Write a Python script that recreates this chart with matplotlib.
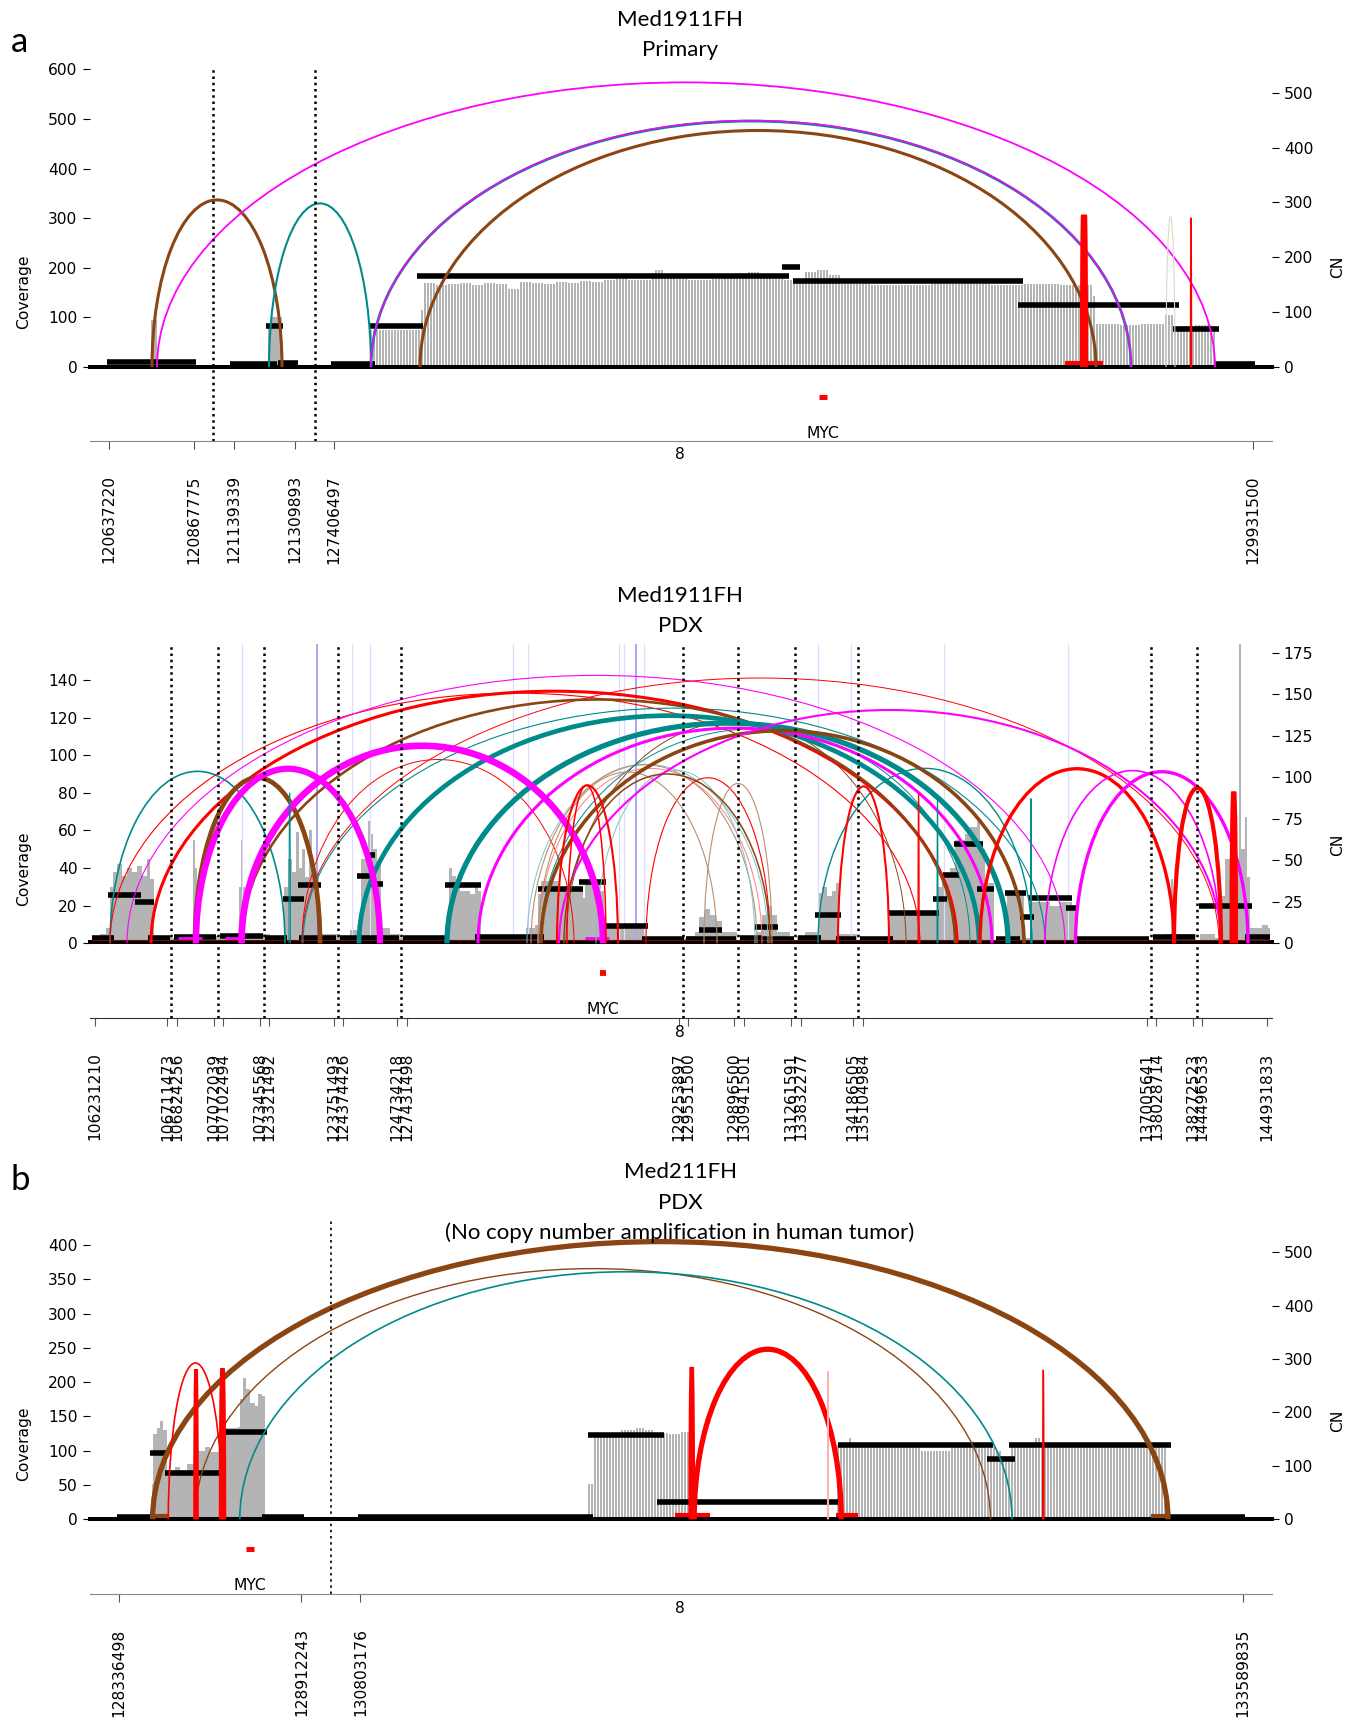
import numpy as np
import matplotlib
matplotlib.use('Agg')
import matplotlib.pyplot as plt
from matplotlib.patches import Arc

W, H = 1354, 1720
BROWN = '#8B4513'
TEAL = '#008B8B'
MAG = '#FF00FF'
RED = '#FF0000'
FAINT = '#e3d6ca'

# ---- panel a, Primary: x is position along the stitched track
a_ticks = [109.3, 193.8, 233.7, 295.3, 334.3, 1252.7]
a_labels = ['120637220', '120867775', '121139339', '121309893', '127406497', '129931500']
a_dotted = [213.3, 314.8]
a_seg_x0 = [107, 230, 266, 277.5, 331, 370, 417, 782, 793, 1018, 1173, 1215]
a_seg_x1 = [196, 277, 283, 298, 375, 423, 789, 800, 1023, 1179, 1219, 1255]
a_seg_cn = [9, 5, 74, 8, 5, 74, 166, 182, 157, 113, 70, 5]
a_cov_x = [151, 157, 268, 271, 282]
a_cov_y = [95, 0, 85, 100, 0]
a_stick_x = [371, 420, 423, 435, 447, 459, 471, 483, 495, 507, 519,
             531, 543, 555, 567, 579, 591, 603, 615, 627, 639, 651, 655, 663, 675, 687, 699,
             711, 723, 735, 747, 759, 771, 783, 792, 804, 816, 828, 841, 870, 900, 930, 960,
             990, 1024, 1060, 1093, 1095, 1097, 1120, 1140, 1166, 1175, 1195, 1213, 1217]
a_stick_y = [74, 115, 170, 165, 168, 170, 166, 170, 168, 158, 172,
             170, 168, 172, 170, 174, 172, 175, 178, 176, 175, 190, 196, 180, 178, 176, 175,
             178, 182, 190, 192, 186, 178, 176, 170, 192, 196, 186, 168, 166, 165, 167, 168,
             166, 168, 166, 143, 100, 87, 84, 86, 106, 83, 85, 82, 0]
a_arc_x0 = [152, 157, 269, 371, 371, 420, 1083, 1190.5, 1166]
a_arc_x1 = [282, 1215, 371, 1131, 1131, 1096, 1085, 1191.5, 1175]
a_arc_peak = [337, 574, 330, 496, 497, 477, 307, 301, 303]
a_arc_color = [BROWN, MAG, TEAL, TEAL, MAG, BROWN, RED, RED, FAINT]
a_arc_width = [2.2, 1.3, 1.5, 2.0, 1.1, 2.2, 4.4, 1.0, 0.8]
a_base_x0 = [1065]
a_base_x1 = [1103]
a_base_y = [8]
a_base_color = [RED]

# ---- panel a, PDX
p_ticks = [95, 167.4, 176.5, 213.8, 223.3, 259.8, 269.3, 333.5, 343, 396.8, 406.8, 678.7, 687.7,
           734.2, 743.6, 791, 801, 853, 862.7, 1147, 1156.4, 1192.5, 1202.3, 1267.3]
p_labels = ['106231210', '106711473', '106824256', '107072039', '107102494', '107345568',
            '123321492', '123751493', '124374426', '124734218', '127431498', '129253897',
            '129551500', '129896500', '130941501', '131261591', '133832277', '134186505',
            '135104984', '137005641', '138028714', '138272523', '144496533', '144931833']
p_dotted = [171.3, 217.7, 264.1, 338.2, 401.1, 682.6, 737.6, 795.2, 858, 1150.8, 1196.8]
p_seg_x0 = [92, 107.5, 135, 148, 173.5, 220.3, 265.4, 282.7, 298, 299, 340.4, 356.5, 370.8, 369.5,
            403.3, 444.5, 474.9, 537.7, 579, 606.2, 641.8, 686, 699.3, 714.4, 740.2, 754.4, 761.7,
            798.2, 815.4, 835.6, 859.7, 887.7, 932.8, 943, 954.3, 976.6, 996, 1005.4, 1019.6,
            1028.2, 1066, 1075.5, 1153, 1198.5, 1245.3]
p_seg_x1 = [114, 141, 154.4, 170, 215.5, 262.8, 287, 304.4, 321, 336, 399, 370.8, 382.5, 375,
            446.7, 481.4, 544.2, 583.3, 606.2, 648.3, 684, 714.4, 721.7, 736, 761.7, 778, 794,
            820.6, 841.2, 856.3, 892.8, 938.8, 947.4, 959.4, 983, 993.8, 1019.6, 1025.7, 1033.8,
            1072, 1076, 1148.6, 1195, 1251.8, 1270]
p_seg_cn = [3, 29, 25, 3, 4, 4.7, 3, 27, 35, 3, 3, 40.6, 35.7, 53,
            3, 35, 3.8, 33, 36.8, 10.5, 2.7, 2.7, 8, 2.7, 3.3, 9.6, 2.7,
            3, 17, 2.7, 2.7, 18, 27, 41, 60, 33, 2.7, 30.5, 16,
            27.6, 21, 2.7, 3.8, 22.7, 3.8]
p_cov_x = [92, 100, 106, 110, 113, 117, 122, 127, 132, 137, 142, 147, 150, 154, 172, 193, 195, 197,
           218, 239, 241, 243, 245, 270, 284, 288, 292, 296, 299, 302, 305, 309, 312, 315, 319, 340,
           350, 359, 361, 365, 368, 370, 373, 377, 381, 390, 400, 404, 449, 452, 456, 460, 470, 475,
           478, 481, 526, 535, 538, 541, 560, 575, 583, 585, 600, 604, 625, 645, 687, 695, 699, 705,
           710, 716, 722, 737, 743, 757, 762, 767, 772, 777, 790, 797, 805, 817, 818, 822, 827, 832,
           836, 839, 857, 890, 938, 942, 950, 955, 965, 970, 977, 980, 985, 994, 1007, 1024, 1032,
           1050, 1060, 1072, 1076, 1153, 1165, 1171, 1173, 1196, 1200, 1215, 1220, 1225, 1230, 1236,
           1239, 1241, 1245, 1247, 1250, 1262, 1268, 1270]
p_cov_y = [3, 5, 8, 30, 38, 42, 36, 40, 38, 41, 36, 45, 34, 4, 3, 55, 40, 4,
           3, 30, 55, 30, 5, 4, 30, 45, 38, 59, 40, 50, 35, 60, 42, 38, 5, 4,
           7, 8, 45, 50, 65, 58, 50, 42, 8, 5, 3, 0, 40, 36, 32, 28, 26, 30,
           28, 0, 8, 10, 26, 33, 28, 30, 24, 33, 28, 10, 9, 3, 4, 6, 14, 18,
           15, 12, 6, 1, 4, 6, 15, 20, 15, 6, 1, 4, 6, 3, 27, 30, 25, 28,
           32, 5, 1, 16, 30, 36, 40, 55, 58, 62, 65, 50, 32, 2, 28, 3, 22,
           20, 22, 18, 0, 3, 5, 34, 5, 1, 5, 3, 25, 45, 52, 45,
           159, 50, 67, 35, 8, 10, 8, 0]
p_blue_faint = [241.5, 352, 369.5, 512.6, 528, 618.8, 623.6, 644, 817.6, 851, 944.4, 1068]
p_blue_strong = [316.6, 636]
p_arc_x0 = [110, 110, 127, 302, 302, 303, 527, 531, 538, 566, 596, 540, 646, 704, 538, 818,
            151, 195, 241.5, 359, 447, 478, 541, 559, 564, 196, 241.5,
            567, 557, 838, 980, 1045, 1075.5, 1174, 1232, 918, 937, 1030.5, 289]
p_arc_x1 = [285, 920, 1065, 1219, 574, 1045, 768, 757, 762, 906, 755, 970, 770, 772, 717, 1032,
            957, 320, 955, 979, 1008, 992, 1024, 1221, 770, 380, 603,
            606, 618, 889, 1174, 1220, 1248, 1221, 1235.5, 919.2, 938, 1031.5, 290.4]
p_arc_peak = [91.4, 133, 142.4, 141, 97.7, 125, 95, 95, 93, 118, 92, 114, 88, 85, 91, 93,
              134, 88, 129.6, 121, 117, 114.4, 113, 124, 90, 92.8, 105,
              84, 84, 83.4, 92.8, 91.8, 91.2, 82.6, 80.6, 80, 77, 77, 80]
p_arc_color = [TEAL, RED, MAG, RED, RED, TEAL, '#7fc5c5', '#b98f70', '#ff7f7f', BROWN, '#7fc5c5', TEAL,
               RED, '#b98f70', '#b98f70', TEAL,
               RED, BROWN, BROWN, TEAL, TEAL, MAG, BROWN, MAG, BROWN, MAG, MAG,
               RED, RED, RED, RED, MAG, MAG, RED, RED, RED, TEAL, TEAL, TEAL]
p_arc_width = [1.2, 0.8, 0.8, 0.7, 0.7, 0.8, 0.7, 0.8, 0.7, 0.7, 0.7, 0.7, 0.8, 0.8, 0.8, 1.0,
               2.2, 3.4, 1.9, 3.4, 3.8, 2.2, 2.6, 1.5, 1.1, 4.5, 4.8,
               1.1, 1.5, 1.5, 2.4, 1.2, 2.4, 3.0, 3.6, 0.8, 0.7, 0.7, 0.7]
p_base_x0 = [178, 225, 585, 92]
p_base_x1 = [202, 243, 609, 1270]
p_base_y = [3, 3, 3, 2]
p_base_color = [MAG, MAG, MAG, '#8b0000']

# ---- panel b, PDX
c_ticks = [119.3, 301.4, 360.4, 1243]
c_labels = ['128336498', '128912243', '130803176', '133589835']
c_dotted = [331.3]
c_seg_x0 = [117, 149.6, 164.8, 224.6, 262.4, 357.8, 587.6, 657.4, 837.8, 987, 1008.9, 1170]
c_seg_x1 = [152.6, 167, 225.5, 266.7, 303.6, 593.2, 663.5, 837.8, 993, 1015.3, 1171, 1245]
c_seg_cn = [4.7, 123.7, 86, 163, 5, 4.7, 157, 32.8, 139.7, 113, 139, 4.7]
c_cov_x = [117, 152, 153, 157, 160, 163, 167, 175, 180, 187, 194, 205, 210, 218, 220, 238, 240,
           243, 246, 250, 255, 258, 262, 265, 300, 303]
c_cov_y = [3, 52, 125, 133, 144, 130, 72, 76, 72, 80, 100, 105, 98, 100, 133, 135, 175,
           206, 190, 170, 165, 183, 180, 3, 6, 0]
c_stick_x = [589, 593, 610, 622, 635, 645, 655, 668, 680, 689, 838, 850, 853, 900, 920, 950,
             985, 995, 1003, 1010, 1020, 1035, 1040, 1055, 1120, 1168]
c_stick_y = [52, 122, 125, 130, 133, 130, 126, 124, 128, 0, 108, 118, 107, 105, 100, 107,
             105, 100, 92, 110, 105, 118, 105, 110, 105, 0]
c_arc_x0 = [152.6, 195, 239.8, 168.3, 195, 221, 694.2, 690.5, 827.5, 1042.7]
c_arc_x1 = [1168, 990.4, 1012, 222.5, 197, 224, 841.2, 693, 828.5, 1043.9]
c_arc_peak = [405, 365.6, 361, 228, 219, 220, 248, 222, 216, 218]
c_arc_color = [BROWN, BROWN, TEAL, RED, RED, RED, RED, RED, '#ffb0b0', RED]
c_arc_width = [3.8, 1.0, 1.2, 1.2, 2.6, 3.2, 3.8, 3.0, 0.8, 1.0]
c_base_x0 = [675, 836, 1151, 152]
c_base_x1 = [710, 858, 1170, 168]
c_base_y = [6, 6, 5, 5]
c_base_color = [RED, RED, BROWN, BROWN]


def panel(top, bottom, cov_lim, cn_lim, cov_ticks, cn_ticks, ticks, labels, cov_pos, cn_pos,
          spine='#888888'):
    fig_h = (bottom - top) / H
    ax = fig.add_axes([90 / W, 1 - bottom / H, 1182 / W, fig_h])
    ax.set_xlim(90, 1272)
    ax.set_ylim(*cov_lim)
    ax.set_yticks(cov_ticks)
    ax.set_xticks(ticks, labels, rotation=90)
    ax.tick_params(axis='x', length=5.5, width=0.8, color='#555555', pad=19, labelsize=11.2)
    ax.tick_params(axis='y', length=5, width=0.8, pad=4, labelsize=11.2)
    for s in ['top', 'left', 'right']:
        ax.spines[s].set_visible(False)
    ax.spines['bottom'].set_color(spine)
    ax.set_ylabel('Coverage', fontsize=11.2)
    ax.yaxis.set_label_coords(31 / W, 1 - cov_pos / H, transform=fig.transFigure)

    cn = ax.twinx()
    cn.set_ylim(*cn_lim)
    cn.set_yticks(cn_ticks)
    cn.tick_params(axis='y', length=5, width=0.8, pad=3.5, labelsize=11.2)
    for s in cn.spines.values():
        s.set_visible(False)
    cn.set_ylabel('CN', fontsize=11.2)
    cn.yaxis.set_label_coords(1330 / W, 1 - cn_pos / H, transform=fig.transFigure)

    sv = ax.twinx()
    sv.set_ylim(*cov_lim)
    sv.axis('off')
    ax.annotate('8', xy=(680, 0), xycoords=('data', 'axes fraction'), xytext=(0, -10),
                textcoords='offset points', ha='center', va='center', fontsize=11.2)
    return ax, cn, sv


def sticks(ax, x, y):
    # coverage drawn as thin bars, each bar takes the step value at its position
    pos = np.arange(x[0], x[-1], 3.0)
    idx = np.searchsorted(x, pos, side='right') - 1
    heights = np.array(y)[idx]
    ax.vlines(pos, 0, heights, color='#adadad', lw=1.3, zorder=1)


def segments(cn, x0, x1, y, base):
    cn.hlines(base, 88, 1274, color='black', lw=2.9, clip_on=False, zorder=2)
    cn.hlines(y, x0, x1, color='black', lw=4.0, zorder=3)


def arcs(sv, x0, x1, peak, color, width):
    for a, b, p, c, w in zip(x0, x1, peak, color, width):
        sv.add_patch(Arc(((a + b) / 2, 0), b - a, 2 * p, theta1=0, theta2=180,
                         color=c, lw=w, capstyle='butt', zorder=4))


def dotted(sv, xs):
    sv.vlines(xs, 0, 1, transform=sv.get_xaxis_transform(), color='black', lw=1.8,
              linestyles=(0, (1, 1.5)), zorder=5)


def myc(sv, x, y, half, lw, text_y):
    sv.hlines(y, x - half, x + half, color=RED, lw=lw, zorder=5)
    sv.text(x, text_y, 'MYC', ha='center', va='center', fontsize=11.2, zorder=5)


fig = plt.figure(figsize=(W / 100, H / 100), dpi=100)

# panel a, Primary
ax, cn, sv = panel(67, 441, (-149, 605), (-135, 547), range(0, 601, 100), range(0, 501, 100),
                   a_ticks, a_labels, 292, 267)
ax.fill_between(a_cov_x, 0, a_cov_y, step='post', color='#b4b4b4', lw=0, zorder=1)
sticks(ax, a_stick_x, a_stick_y)
segments(cn, a_seg_x0, a_seg_x1, a_seg_cn, 0.5)
sv.hlines(a_base_y, a_base_x0, a_base_x1, color=a_base_color, lw=3, zorder=4)
arcs(sv, a_arc_x0, a_arc_x1, a_arc_peak, a_arc_color, a_arc_width)
dotted(sv, a_dotted)
myc(sv, 823, -60, 4.2, 3.6, -133)

# panel a, PDX
ax, cn, sv = panel(643.6, 1018.4, (-39.9, 159.3), (-45.2, 180.5), range(0, 141, 20), range(0, 176, 25),
                   p_ticks, p_labels, 868.6, 844.5, spine='#333333')
ax.fill_between(p_cov_x, 0, p_cov_y, step='post', color='#b4b4b4', lw=0, zorder=1)
ax.vlines(p_blue_faint, 0, 159.3, color='#dcdcff', lw=0.9, zorder=1)
ax.vlines(p_blue_strong, 0, 159.3, color='#a8a8f0', lw=1.4, zorder=1)
segments(cn, p_seg_x0, p_seg_x1, p_seg_cn, 0.6)
sv.hlines(p_base_y, p_base_x0, p_base_x1, color=p_base_color, lw=[2, 2, 2, 0.8], zorder=4)
arcs(sv, p_arc_x0, p_arc_x1, p_arc_peak, p_arc_color, p_arc_width)
dotted(sv, p_dotted)
myc(sv, 602.8, -15.8, 3, 4.2, -35)

# panel b, PDX
ax, cn, sv = panel(1220.7, 1594.3, (-109.4, 435.5), (-140.4, 559), range(0, 401, 50), range(0, 501, 100),
                   c_ticks, c_labels, 1444, 1420.7)
ax.fill_between(c_cov_x, 0, c_cov_y, step='post', color='#b4b4b4', lw=0, zorder=1)
sticks(ax, c_stick_x, c_stick_y)
segments(cn, c_seg_x0, c_seg_x1, c_seg_cn, 0.5)
sv.hlines(c_base_y, c_base_x0, c_base_x1, color=c_base_color, lw=3, zorder=4)
arcs(sv, c_arc_x0, c_arc_x1, c_arc_peak, c_arc_color, c_arc_width)
sv.vlines(c_dotted, 0, 1, transform=sv.get_xaxis_transform(), color='black', lw=1.2,
          linestyles=(0, (1.5, 2.2)), zorder=5)
myc(sv, 250, -43.6, 4, 3.6, -96.8)

for txt, y in [('Med1911FH', 20.5), ('Primary', 50), ('Med1911FH', 596.5), ('PDX', 626),
               ('Med211FH', 1172.5), ('PDX', 1203), ('(No copy number amplification in human tumor)', 1233)]:
    fig.text(680 / W, 1 - y / H, txt, ha='center', va='center', family='Lato', fontsize=16)
fig.text(19 / W, 1 - 42 / H, 'a', ha='center', va='center', family='Lato', fontsize=25)
fig.text(20 / W, 1 - 1180 / H, 'b', ha='center', va='center', family='Lato', fontsize=25)

fig.savefig('out.png', dpi=100)
